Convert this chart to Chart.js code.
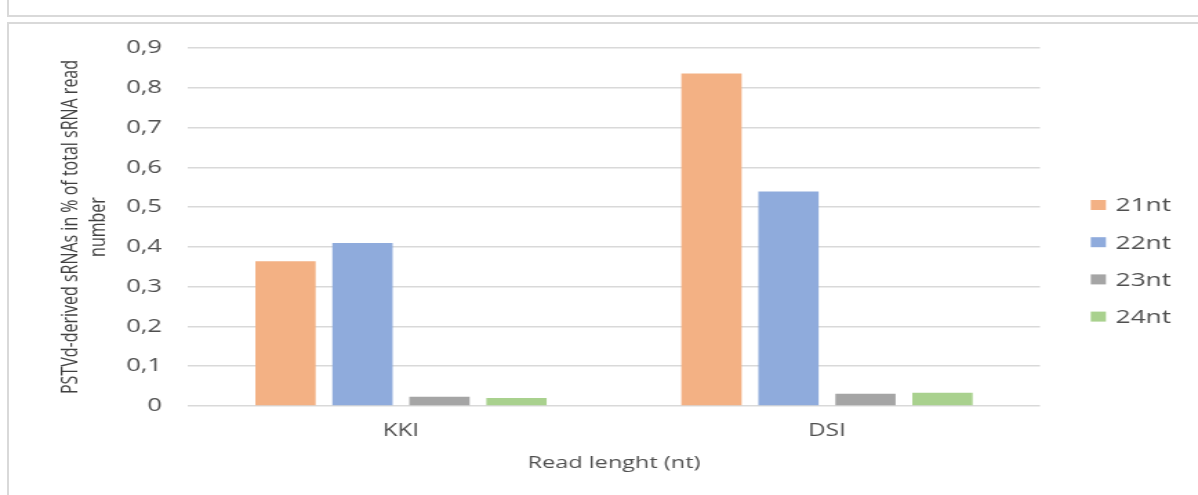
<!DOCTYPE html>
<html>
<head>
<meta charset="utf-8">
<script src="https://cdn.jsdelivr.net/npm/chart.js@4.4.0/dist/chart.umd.min.js"></script>
<style>
  html, body { margin: 0; padding: 0; background: #ffffff; }
  body { width: 1198px; height: 495px; position: relative; overflow: hidden; }
  /* panel outlines */
  .frame { position: absolute; background: #d9d9d9; }
  #wrap {
    position: absolute; left: 0; top: 0;
    width: 868px; height: 495px;
    transform: scaleX(1.3802); transform-origin: 0 0;
  }
</style>
</head>
<body>
<div class="frame" style="left:7px; top:0; width:2px; height:17px;"></div>
<div class="frame" style="left:7px; top:15px; width:1191px; height:2px;"></div>
<div class="frame" style="left:7px; top:22px; width:1191px; height:2px;"></div>
<div class="frame" style="left:7px; top:22px; width:2px; height:473px;"></div>
<div id="wrap"><canvas id="chart"></canvas></div>
<script>
// Samples and read-length classes
const categories = ['KKI', 'DSI'];
const seriesLabels = ['21nt', '22nt', '23nt', '24nt'];

// PSTVd-derived sRNAs, % of total sRNA reads
const nt21 = [0.364, 0.836];
const nt22 = [0.410, 0.539];
const nt23 = [0.023, 0.031];
const nt24 = [0.020, 0.033];

const seriesColors = ['#F3B184', '#8FABDC', '#A5A5A5', '#A9D18E'];
const yTickLabels = ['0', '0,1', '0,2', '0,3', '0,4', '0,5', '0,6', '0,7', '0,8', '0,9'];

const FONT = "'Open Sans', 'Noto Sans', sans-serif";
const TEXT = '#4f4f4f';

// Legend stacked at the right of the plot area
const sideLegend = {
  id: 'sideLegend',
  afterDraw(chart, args, opts) {
    const ctx = chart.ctx;
    const x0 = chart.chartArea.right + opts.offsetX;
    ctx.save();
    ctx.font = opts.fontSize + 'px ' + FONT;
    ctx.textBaseline = 'middle';
    ctx.textAlign = 'left';
    chart.data.datasets.forEach((ds, i) => {
      const cy = opts.top + i * opts.gap;
      ctx.fillStyle = ds.backgroundColor;
      ctx.fillRect(x0, cy - opts.boxH / 2, opts.boxW, opts.boxH);
      ctx.fillStyle = TEXT;
      ctx.fillText(ds.label, x0 + opts.textGap, cy + 1);
    });
    ctx.restore();
  }
};

const seriesValues = [nt21, nt22, nt23, nt24];

new Chart(document.getElementById('chart'), {
  type: 'bar',
  data: {
    labels: categories,
    datasets: seriesLabels.map((label, i) => ({
      label,
      data: seriesValues[i],
      backgroundColor: seriesColors[i],
      borderWidth: 0,
      categoryPercentage: 0.723,
      barPercentage: 0.783
    }))
  },
  options: {
    responsive: true,
    maintainAspectRatio: false,
    animation: false,
    layout: { padding: { left: 41, right: 114.5, top: 48, bottom: 0 } },
    plugins: {
      legend: { display: false },
      tooltip: { enabled: false },
      sideLegend: { offsetX: 36.8, top: 205, gap: 37.2, boxW: 11, boxH: 10, textGap: 18, fontSize: 19 }
    },
    scales: {
      x: {
        grid: { display: false, drawTicks: false },
        border: { display: false },
        ticks: { color: TEXT, font: { family: FONT, size: 17.5 }, padding: 14.5 },
        title: {
          display: true,
          text: 'Read lenght (nt)',
          color: TEXT,
          font: { family: FONT, size: 17 },
          padding: { top: 0, bottom: 21.8 }
        },
        afterFit(scale) { scale.height = 89; }
      },
      y: {
        min: 0,
        max: 0.9,
        grid: { color: '#d9d9d9', lineWidth: 1.5, drawTicks: false },
        border: { display: false },
        ticks: {
          stepSize: 0.1,
          color: TEXT,
          font: { family: FONT, size: 18.5 },
          padding: 18.8,
          callback: (v, i) => yTickLabels[i]
        },
        title: {
          display: true,
          text: ['PSTVd-derived sRNAs in % of total sRNA read', 'number'],
          color: '#404040',
          font: { family: FONT, size: 16, lineHeight: 1.27 },
          padding: { top: 0, bottom: 0 }
        },
        afterFit(scale) { scale.width = 95.2; }
      }
    }
  },
  plugins: [sideLegend]
});
</script>
</body>
</html>
